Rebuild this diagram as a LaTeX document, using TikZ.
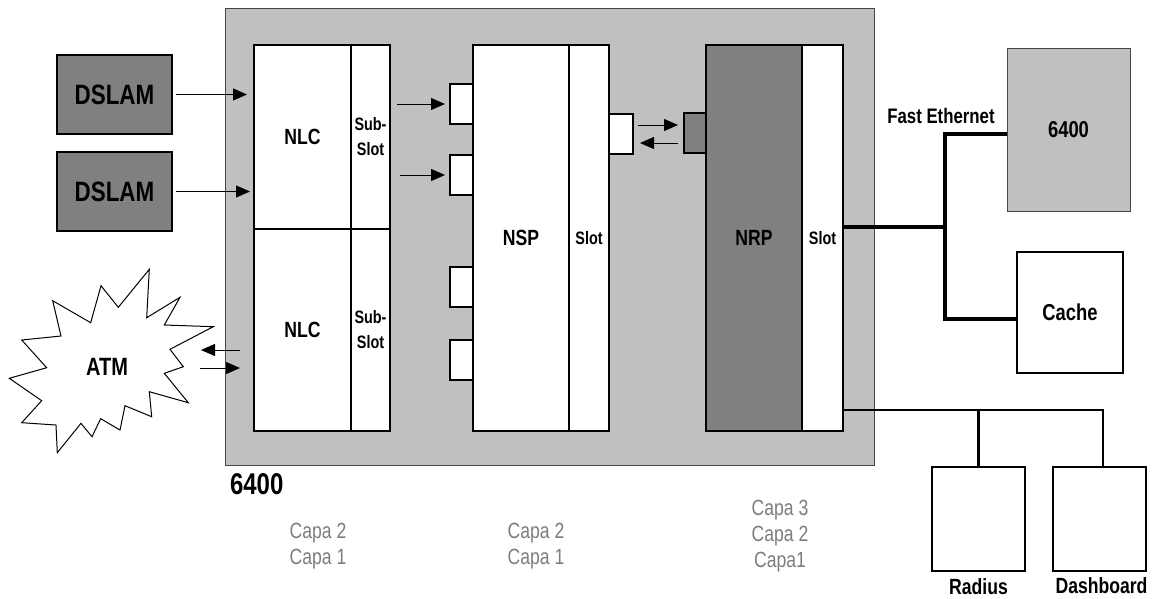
\documentclass[tikz,border=0pt]{standalone}
\usepackage{fontspec}
\setmainfont{Liberation Sans}[FakeStretch=0.8]
\usetikzlibrary{positioning, arrows.meta, calc}
\definecolor{chassisgray}{RGB}{192,192,192}
\definecolor{cardgray}{RGB}{128,128,128}
\definecolor{capagray}{RGB}{125,125,125}
\definecolor{edgegray}{RGB}{70,70,70}

\begin{document}
\begin{tikzpicture}[x=1pt, y=-1pt,
    every node/.style={inner sep=0pt, outer sep=0pt},
    card/.style={draw, line width=2pt, fill=white, font=\bfseries\fontsize{22}{24}\selectfont},
    slotcard/.style={card, align=center, font=\bfseries\fontsize{18}{25}\selectfont},
    port/.style={draw, line width=2pt, fill=white, minimum width=23pt, minimum height=40pt},
    dslam/.style={draw, line width=2pt, fill=cardgray, minimum width=115pt, minimum height=79pt,
                  font=\bfseries\fontsize{28}{30}\selectfont},
    host/.style={draw, line width=2pt, fill=white, font=\bfseries\fontsize{23}{25}\selectfont},
    capa/.style={align=center, text=capagray, font=\fontsize{22}{26}\selectfont},
    arr/.style={-{Triangle[length=14pt, width=12pt]}, line width=1pt},
    fe/.style={line width=4pt},
    lan/.style={line width=2.5pt}
]
\useasboundingbox (0,0) rectangle (1153,598);

% chassis 6400
\node[draw=edgegray, line width=1pt, fill=chassisgray, minimum width=649pt, minimum height=457pt] (chassis) at (549.5,236.5) {};
\node[anchor=north west, font=\bfseries\fontsize{30}{32}\selectfont] (chassisLbl) at (230,474) {6400};

% line cards
\node[card, minimum width=97pt, minimum height=184pt] (nlcA) at (302.5,137) {NLC};
\node[slotcard, minimum width=39pt, minimum height=184pt, right=0pt of nlcA] (subA) {Sub-\\Slot};
\node[card, minimum width=97pt, minimum height=202pt, below=0pt of nlcA] (nlcB) {NLC};
\node[slotcard, minimum width=39pt, minimum height=202pt, right=0pt of nlcB] (subB) {Sub-\\Slot};

\node[card, minimum width=96pt, minimum height=386pt] (nsp) at (521,238) {NSP};
\node[slotcard, minimum width=40pt, minimum height=386pt, right=0pt of nsp] (slotNsp) {Slot};
\node[card, fill=cardgray, minimum width=96pt, minimum height=386pt] (nrp) at (754,238) {NRP};
\node[slotcard, minimum width=41pt, minimum height=386pt, right=0pt of nrp] (slotNrp) {Slot};

% ports
\node[port] (p1) at (461.5,104) {};
\node[port] (p2) at (461.5,175) {};
\node[port] (p3) at (461.5,287) {};
\node[port] (p4) at (461.5,360) {};
\node[port, minimum width=24pt] (nspOut) at (621,134) {};
\node[port, fill=cardgray, minimum width=22pt] (nrpIn) at (695,133) {};

% access side
\node[dslam] (dslamA) at (114.5,94.5) {DSLAM};
\node[dslam] (dslamB) at (114.5,191.5) {DSLAM};

\draw[line width=1pt, fill=white] (149.3,269.3) -- (118.3,307.3) -- (101,285.7) -- (90.7,322.7)
    -- (52.7,300.7) -- (61,336) -- (21.7,340) -- (46.7,367.7) -- (9.3,378.3) -- (41.7,400.7)
    -- (21.7,422.7) -- (56,425) -- (57.3,452.7) -- (81,423.3) -- (92,436.7) -- (100.7,418.7)
    -- (120,430) -- (125,405.7) -- (151.7,416.7) -- (149.3,391.7) -- (188.3,402.7) -- (164.3,373.3)
    -- (183.3,366.7) -- (170,349.3) -- (213.3,326.7) -- (164.3,325) -- (180,297.3) -- (146.7,317.7) -- cycle;
\node[font=\bfseries\fontsize{25}{27}\selectfont] (atm) at (107,367) {ATM};

\draw[arr] ([xshift=4pt]dslamA.east) -- ([xshift=-7pt]dslamA.east -| nlcA.west);
\draw[arr] ([xshift=4pt]dslamB.east) -- ([xshift=-4pt]dslamB.east -| nlcA.west);
\draw[arr] ($(nlcB.west)+(-14,20)$) -- ($(nlcB.west)+(-53,20)$);
\draw[arr] ($(nlcB.west)+(-54,38)$) -- ($(nlcB.west)+(-14,38)$);

\draw[arr] ([xshift=7pt]subA.east |- p1.west) -- ([xshift=-5pt]p1.west);
\draw[arr] ([xshift=10pt]subA.east |- p2.west) -- ([xshift=-5pt]p2.west);
\draw[arr] ([xshift=5pt, yshift=9pt]nspOut.east) -- ([xshift=-6pt, yshift=8pt]nrpIn.west);
\draw[arr] ([xshift=-6pt, yshift=-10pt]nrpIn.west) -- ([xshift=7pt, yshift=-9pt]nspOut.east);

% server side
\node[host, draw=edgegray, line width=1pt, fill=chassisgray, minimum width=123pt, minimum height=163pt] (rtr) at (1068.5,129.5) {6400};
\node[host, minimum width=106pt, minimum height=121pt] (cache) at (1070,312.5) {Cache};
\node[host, minimum width=93pt, minimum height=104pt] (radius) at (978.5,519) {};
\node[host, minimum width=93pt, minimum height=104pt] (dash) at (1099.5,519) {};
\node[font=\bfseries\fontsize{22}{24}\selectfont, below=8pt of radius] (radiusLbl) {Radius};
\node[font=\bfseries\fontsize{22}{24}\selectfont, below=7pt of dash.south, xshift=2pt] (dashLbl) {Dashboard};

\coordinate (hub) at (945,227);
\draw[fe] (slotNrp.east |- hub) -- (hub);
\draw[fe] ([yshift=-4.5pt]rtr.west) -| (hub) |- ([yshift=-6.5pt]cache.west);
\node[anchor=base, font=\bfseries\fontsize{21}{23}\selectfont] (feLbl) at (941,123) {Fast Ethernet};

\coordinate (bus) at (978,410);
\draw[lan] (slotNrp.east |- bus) -| ([xshift=3.5pt]dash.north);
\draw[lan] (radius.north) -- (radius.north |- bus);

% layers
\node[capa, anchor=north] (capaNlc) at (318,523) {Capa 2\\Capa 1};
\node[capa, anchor=north] (capaNsp) at (536,523) {Capa 2\\Capa 1};
\node[capa, anchor=north] (capaNrp) at (780,500) {Capa 3\\Capa 2\\Capa1};
\end{tikzpicture}
\end{document}
